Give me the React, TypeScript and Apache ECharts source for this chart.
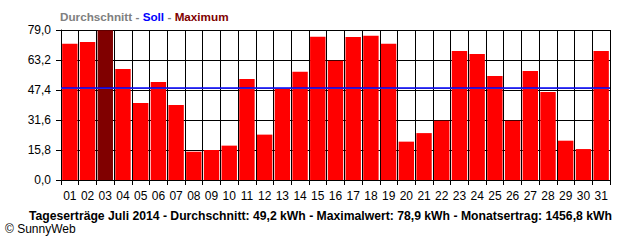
import React, { useEffect, useRef } from "react";
import * as echarts from "echarts";

const days = ["01","02","03","04","05","06","07","08","09","10","11","12","13","14","15","16","17","18","19","20","21","22","23","24","25","26","27","28","29","30","31"];
const yields = [71.8,72.7,78.9,58.5,40.5,51.6,39.5,14.9,15.8,18.1,53.2,23.9,48.4,57.0,75.5,62.8,75.3,76.0,71.8,20.2,24.7,31.2,67.9,66.3,54.8,31.2,57.4,46.3,20.7,16.3,67.9];
const maxDayIndex = 2;
const sollValue = 48.7;
const avgLineValue = 48.2;
const yTicks = [0, 15.8, 31.6, 47.4, 63.2, 79.0];
const footerText = "Tageserträge Juli 2014 - Durchschnitt: 49,2 kWh - Maximalwert: 78,9 kWh - Monatsertrag: 1456,8 kWh";

export default function App() {
  const ref = useRef<HTMLDivElement>(null);
  useEffect(() => {
    if (!ref.current) return;
    const chart = echarts.init(ref.current, null, { renderer: "svg" });
    const font = "'Liberation Sans', Arial, sans-serif";
    chart.setOption({
      animation: false,
      backgroundColor: "#ffffff",
      grid: { left: 61, right: 30, top: 30, bottom: 60, containLabel: false },
      xAxis: {
        type: "category",
        data: days,
        axisLine: { show: true, lineStyle: { color: "#000", width: 1 } },
        axisTick: { show: true, length: 5, lineStyle: { color: "#000" } },
        axisLabel: { color: "#000", fontFamily: font, fontSize: 12, margin: 10 },
        splitLine: { show: true, lineStyle: { color: "#000", width: 1 } },
      },
      yAxis: {
        type: "value",
        min: 0,
        max: yTicks[yTicks.length - 1],
        interval: yTicks[1],
        axisLine: { show: true, lineStyle: { color: "#000", width: 1 } },
        axisTick: { show: true, length: 5, lineStyle: { color: "#000" } },
        axisLabel: {
          color: "#000",
          fontFamily: font,
          fontSize: 12,
          margin: 10,
          formatter: (v: number) => v.toFixed(1).replace(".", ","),
        },
        splitLine: { show: true, lineStyle: { color: "#000", width: 1 } },
      },
      series: [
        {
          type: "bar",
          data: yields.map((v, i) => ({
            value: v,
            itemStyle: { color: i === maxDayIndex ? "#800000" : "#ff0000" },
          })),
          barCategoryGap: "13%",
          markLine: {
            silent: true,
            symbol: "none",
            label: { show: false },
            z: 5,
            data: [
              { yAxis: avgLineValue, lineStyle: { color: "#808080", width: 1, type: "solid" } },
              { yAxis: sollValue, lineStyle: { color: "#0000ff", width: 1.5, type: "solid" } },
            ],
          },
        },
      ],
      graphic: [
        {
          type: "text",
          left: 60,
          top: 10,
          style: {
            text: "{g|Durchschnitt} {g|-} {b|Soll} {g|-} {r|Maximum}",
            rich: {
              g: { fill: "#808080", fontWeight: "bold", fontSize: 11.7, fontFamily: font },
              b: { fill: "#0000ff", fontWeight: "bold", fontSize: 11.7, fontFamily: font },
              r: { fill: "#800000", fontWeight: "bold", fontSize: 11.7, fontFamily: font },
            },
          },
        },
        {
          type: "text",
          left: 29,
          top: 210,
          style: {
            text: footerText,
            fill: "#000",
            fontWeight: "bold",
            fontSize: 12.2,
            fontFamily: font,
          },
        },
        {
          type: "text",
          left: 5,
          top: 223,
          style: {
            text: "© SunnyWeb",
            fill: "#000",
            fontSize: 12,
            fontFamily: font,
          },
        },
      ],
    });
    return () => chart.dispose();
  }, []);
  return <div ref={ref} style={{ width: 640, height: 240, position: "absolute", left: 0, top: 0 }} />;
}
